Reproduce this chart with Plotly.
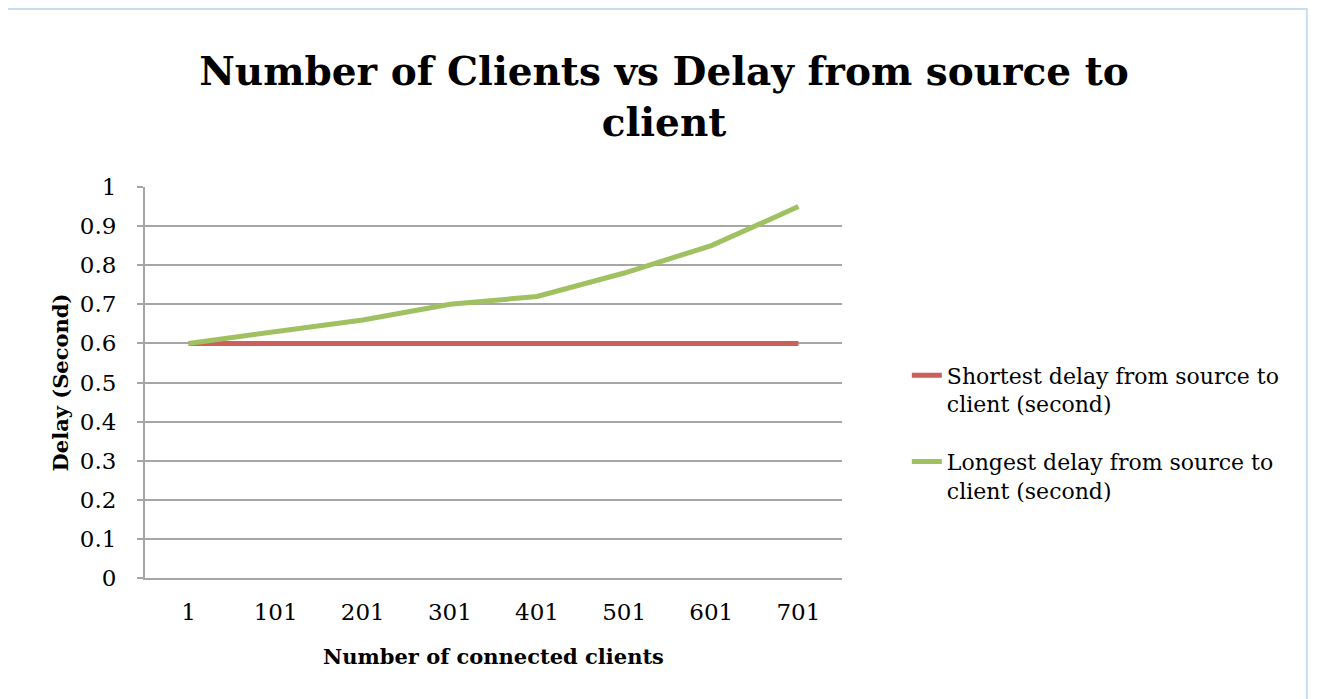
import plotly.graph_objects as go

categories = ["1", "101", "201", "301", "401", "501", "601", "701"]
shortest = [0.6, 0.6, 0.6, 0.6, 0.6, 0.6, 0.6, 0.6]
longest = [0.6, 0.63, 0.66, 0.70, 0.72, 0.78, 0.85, 0.95]
y_ticks = [0, 0.1, 0.2, 0.3, 0.4, 0.5, 0.6, 0.7, 0.8, 0.9, 1]
y_labels = ["0", "0.1", "0.2", "0.3", "0.4", "0.5", "0.6", "0.7", "0.8", "0.9", "1"]

FONT = "DejaVu Serif"

fig = go.Figure()
fig.add_trace(go.Scatter(x=categories, y=shortest, mode="lines",
                         name="Shortest delay from source to<br>client (second)",
                         legendgroup="a",
                         line=dict(color="#CD5F5B", width=5)))
fig.add_trace(go.Scatter(x=categories, y=longest, mode="lines",
                         name="Longest delay from source to<br>client (second)",
                         legendgroup="b",
                         line=dict(color="#9FC161", width=5)))

fig.update_layout(
    width=1312, height=691,
    margin=dict(l=137, r=478, t=179, b=121),
    paper_bgcolor="white", plot_bgcolor="white",
    font=dict(family=FONT, color="black", size=22),
    title=dict(text="<b>Number of Clients vs Delay from source to<br>client</b>",
               x=0.5, xref="container", xanchor="center",
               y=0.888, yref="container", yanchor="top",
               font=dict(family=FONT, size=39, color="black")),
    xaxis=dict(type="category", range=[-0.5, 7.5], showgrid=False,
               showline=True, linecolor="#A6A6A6", linewidth=2,
               ticks="", tickfont=dict(size=23), ticklabelstandoff=12,
               title=dict(text="<b>Number of connected clients</b>", font=dict(size=21), standoff=26)),
    yaxis=dict(range=[0, 1], tickvals=y_ticks, ticktext=y_labels,
               showgrid=True, gridcolor="#A6A6A6", gridwidth=2,
               showline=True, linecolor="#A6A6A6", linewidth=2,
               ticks="outside", ticklen=6, tickcolor="#A6A6A6", tickwidth=2,
               zeroline=False, tickfont=dict(size=23), ticklabelstandoff=16,
               title=dict(text="<b>Delay (Second)</b>", font=dict(size=21), standoff=5)),
    legend=dict(x=1.093, xanchor="left", y=0.371, yanchor="middle",
                font=dict(size=22), tracegroupgap=26, valign="top",
                traceorder="grouped", bgcolor="rgba(0,0,0,0)"),
    shapes=[dict(type="rect", xref="paper", yref="paper",
                 x0=-0.21, x1=1.667, y0=-0.33, y1=1.455,
                 line=dict(color="#C9DDF2", width=2), fillcolor="rgba(0,0,0,0)", layer="below")],
)

fig.write_html("out.html")
